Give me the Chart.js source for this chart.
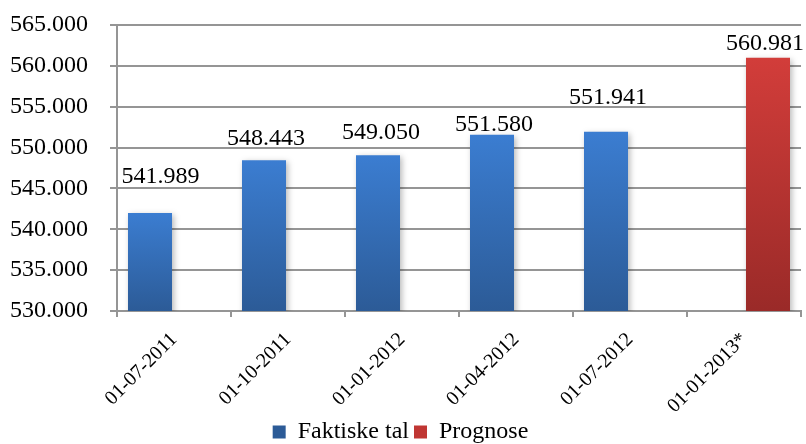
<!DOCTYPE html>
<html><head><meta charset="utf-8">
<script src="https://cdn.jsdelivr.net/npm/chart.js@4.4.1/dist/chart.umd.min.js"></script>
<style>html,body{margin:0;padding:0;background:#fff}#wrap{width:806px;height:444px}</style>
</head><body><div id="wrap"><canvas id="c" width="806" height="444"></canvas></div>
<script>
const categories = ['01-07-2011','01-10-2011','01-01-2012','01-04-2012','01-07-2012','01-01-2013*'];
const faktiskeTal = [541989, 548443, 549050, 551580, 551941, null];
const prognose = [null, null, null, null, null, 560981];
const yMin = 530000, yMax = 565000, yStep = 5000;

const FONT = '"Liberation Serif", "Times New Roman", serif';
const GRID = '#959595';

function fmt(v){ return String(Math.round(v)).replace(/\B(?=(\d{3})+(?!\d))/g, '.'); }

function grad(top, bottom, mid){
  return (ctx) => {
    const chart = ctx.chart;
    if (ctx.type !== 'data' || !chart.chartArea) return mid;
    const v = ctx.raw;
    if (v == null) return mid;
    const ys = chart.scales.y;
    const y0 = ys.getPixelForValue(v), y1 = ys.getPixelForValue(yMin);
    const g = chart.ctx.createLinearGradient(0, y0, 0, y1);
    g.addColorStop(0, top); g.addColorStop(1, bottom);
    return g;
  };
}

const barDecor = {
  id: 'barDecor',
  beforeDatasetsDraw(chart){
    const c = chart.ctx; c.save();
    c.shadowColor = 'rgba(0,0,0,0.28)'; c.shadowBlur = 6; c.shadowOffsetX = 2; c.shadowOffsetY = 2;
  },
  afterDatasetsDraw(chart, args, opts){
    const c = chart.ctx; c.restore(); c.save();
    c.font = '24px ' + FONT; c.fillStyle = '#000'; c.textAlign = 'center'; c.textBaseline = 'alphabetic';
    chart.data.datasets.forEach((ds, di) => {
      const meta = chart.getDatasetMeta(di);
      meta.data.forEach((bar, i) => {
        const v = ds.data[i]; if (v == null) return;
        const off = opts.offsets[i] || [0, 8];
        c.fillText(fmt(v), bar.x + off[0], bar.y - off[1]);
      });
    });
    c.restore();
  }
};

new Chart(document.getElementById('c'), {
  type: 'bar',
  data: {
    labels: categories,
    datasets: [
      { label: 'Faktiske tal', data: faktiskeTal, backgroundColor: grad('#3b7dd1', '#2c5b97', '#3a70bb'), borderWidth: 0 },
      { label: 'Prognose', data: prognose, backgroundColor: grad('#d23d3a', '#9a2a28', '#c03633'), borderWidth: 0 }
    ]
  },
  options: {
    responsive: false, animation: false,
    categoryPercentage: 0.842, barPercentage: 0.917,
    layout: { padding: { top: 25, right: 5, left: 0, bottom: -10 } },
    scales: {
      y: {
        min: yMin, max: yMax,
        afterFit(s){ s.width = 117; s.paddingTop = 0; s.paddingBottom = 0; },
        ticks: { stepSize: yStep, callback: v => fmt(v), color: '#000', font: { family: FONT, size: 24 }, padding: 22 },
        grid: { color: GRID, lineWidth: 2, tickLength: 7 },
        border: { color: GRID, width: 2 }
      },
      x: {
        afterFit(s){ s.height = 104; },
        ticks: { color: '#000', font: { family: FONT, size: 20 }, minRotation: 45, maxRotation: 45, padding: 11 },
        grid: { display: true, drawOnChartArea: false, drawTicks: true, tickLength: 6, color: GRID, lineWidth: 2 },
        border: { color: GRID, width: 2 }
      }
    },
    plugins: {
      legend: { position: 'bottom', labels: { color: '#000', font: { family: FONT, size: 24, lineHeight: 1 }, boxWidth: 13, boxHeight: 13, padding: 5 } },
      tooltip: { enabled: false },
      barDecor: { offsets: [[10.5, 30], [2, 15], [3, 16], [2, 4], [2, 28], [-3, 8]] }
    }
  },
  plugins: [barDecor]
});
</script></body></html>
